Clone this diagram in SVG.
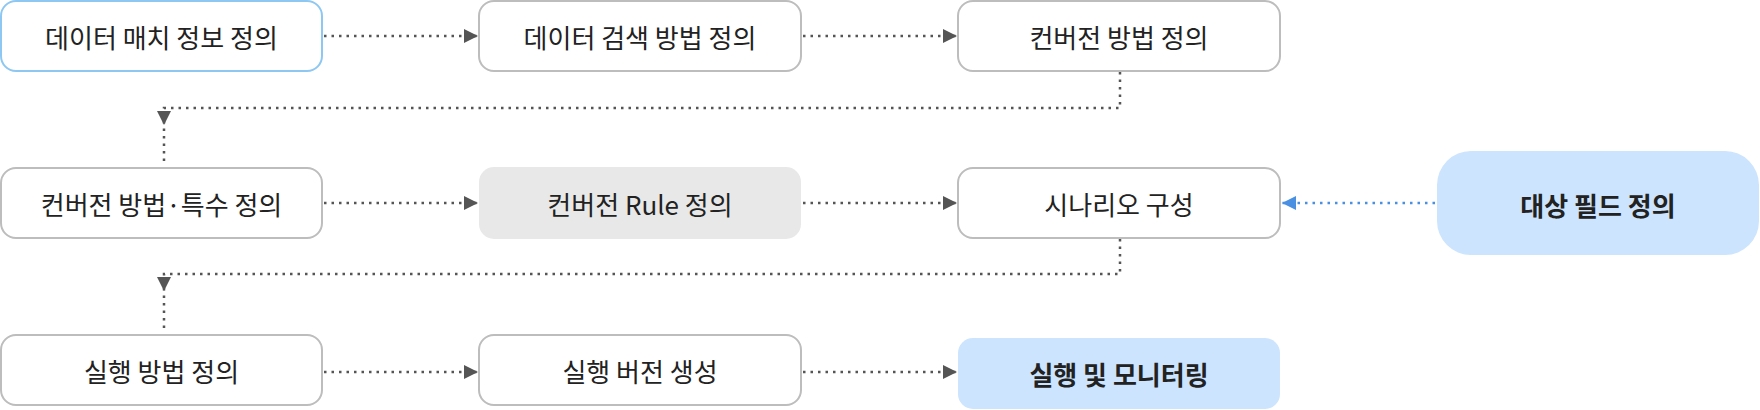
<svg xmlns="http://www.w3.org/2000/svg" width="1760" height="410" viewBox="0 0 1760 410">
<defs>
<style>
.box{fill:#fff;stroke:#bdbdbd;stroke-width:2}
.sel{fill:#fff;stroke:#8ec8f2;stroke-width:2}
.gray{fill:#e8e8e8}
.blue{fill:#cce4fd}
.t{font-family:"Noto Sans CJK KR","Noto Sans",sans-serif;font-size:26px;fill:#222;text-anchor:middle;dominant-baseline:central}
.b{font-weight:bold}
.c{fill:none;stroke:#555;stroke-width:2.5;stroke-dasharray:2.5 5}
.cb{fill:none;stroke:#4a90e2;stroke-width:2.5;stroke-dasharray:2.5 5}
.ah{fill:#555}
</style>
<marker id="arr" viewBox="0 0 14 14" refX="14" refY="7" markerWidth="14" markerHeight="14" markerUnits="userSpaceOnUse" orient="auto"><path d="M0,0 L14,7 L0,14 Z" fill="#555"/></marker>
<marker id="arrb" viewBox="0 0 14 14" refX="14" refY="7" markerWidth="14" markerHeight="14" markerUnits="userSpaceOnUse" orient="auto"><path d="M0,0 L14,7 L0,14 Z" fill="#4a90e2"/></marker>
</defs>
<g id="connectors">
<path class="c" d="M324,36 H478" marker-end="url(#arr)"/>
<path class="c" d="M803,36 H957" marker-end="url(#arr)"/>
<path class="c" d="M1120,72 V108 H164 V166"/>
<path class="ah" d="M157,111 L171,111 L164,125 Z"/>
<path class="c" d="M324,203 H478" marker-end="url(#arr)"/>
<path class="c" d="M803,203 H957" marker-end="url(#arr)"/>
<path class="cb" d="M1435,203 H1282" marker-end="url(#arrb)"/>
<path class="c" d="M1120,239 V274 H164 V333"/>
<path class="ah" d="M157,277 L171,277 L164,291 Z"/>
<path class="c" d="M324,372 H478" marker-end="url(#arr)"/>
<path class="c" d="M803,372 H957" marker-end="url(#arr)"/>
</g>
<g id="n1"><rect class="sel" x="1" y="1" width="321" height="70" rx="15"/><text class="t" x="161.5" y="36">데이터 매치 정보 정의</text></g>
<g id="n2"><rect class="box" x="479" y="1" width="322" height="70" rx="15"/><text class="t" x="640" y="36">데이터 검색 방법 정의</text></g>
<g id="n3"><rect class="box" x="958" y="1" width="322" height="70" rx="15"/><text class="t" x="1119" y="36">컨버전 방법 정의</text></g>
<g id="n4"><rect class="box" x="1" y="168" width="321" height="70" rx="15"/><text class="t" x="161.5" y="203">컨버전 방법·특수 정의</text></g>
<g id="n5"><rect class="gray" x="479" y="167" width="322" height="72" rx="15"/><text class="t" x="640" y="203">컨버전 Rule 정의</text></g>
<g id="n6"><rect class="box" x="958" y="168" width="322" height="70" rx="15"/><text class="t" x="1119" y="203">시나리오 구성</text></g>
<g id="n7"><rect class="blue" x="1437" y="151" width="322" height="104" rx="34"/><text class="t b" x="1598" y="204">대상 필드 정의</text></g>
<g id="n8"><rect class="box" x="1" y="335" width="321" height="70" rx="15"/><text class="t" x="161.5" y="370">실행 방법 정의</text></g>
<g id="n9"><rect class="box" x="479" y="335" width="322" height="70" rx="15"/><text class="t" x="640" y="370">실행 버전 생성</text></g>
<g id="n10"><rect class="blue" x="958" y="338" width="322" height="71" rx="15"/><text class="t b" x="1119" y="373">실행 및 모니터링</text></g>
</svg>
